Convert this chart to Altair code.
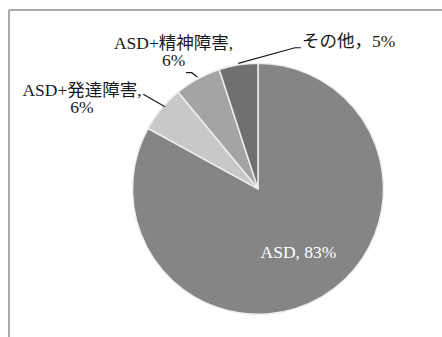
import altair as alt
import pandas as pd
import numpy as np

# ---- data ----
categories = ["ASD", "ASD+発達障害", "ASD+精神障害", "その他"]
shares = [83, 6, 6, 5]
labels = ["ASD, 83%", "ASD+発達障害,\n6%", "ASD+精神障害,\n6%", "その他，5%"]

# ---- styles ----
colors = ["#858585", "#c8c8c8", "#a4a4a4", "#707070"]
text_colors = ["#ffffff", "#1a1a1a", "#1a1a1a", "#1a1a1a"]
label_align = ["center", "center", "center", "left"]
label_radius = [0.6, 1.0, 1.0, 1.0]          # fraction of pie radius for anchor
label_offset = [(2.2, 4.7), (-79.3, -13.1), (-24.0, -29.8), (63.6, -17.8)]  # px
leader_offsets = [
    [],
    [(-18.0, -14.5), (3.7, -2.1)],
    [(-11.5, -6.1), (-5.8, -6.1), (-0.2, -1.8)],
    [(-0.1, -1.5), (56.6, -17.1), (62.6, -17.1)],
]
FONT = "Liberation Serif, Noto Sans CJK JP"
W, H = 442, 337
CX, CY, R = 258.0, 188.8, 125.5

xs = alt.Scale(domain=[-CX / R, (W - CX) / R], nice=False, zero=False)
ys = alt.Scale(domain=[(CY - H) / R, CY / R], nice=False, zero=False)

vals = np.array(shares, dtype=float)
frac_mid = (np.cumsum(vals) - vals / 2) / vals.sum()
ang = 2 * np.pi * frac_mid

pie_df = pd.DataFrame({"cat": categories, "share": shares, "idx": range(len(categories))})

lab_rows = []
line_rows = []
for i, c in enumerate(categories):
    px = label_radius[i] * np.sin(ang[i])
    py = label_radius[i] * np.cos(ang[i])
    ox, oy = label_offset[i]
    lab_rows.append({"cat": c, "label": labels[i], "x": px + ox / R, "y": py - oy / R,
                     "tc": text_colors[i], "align": label_align[i]})
    ex, ey = np.sin(ang[i]), np.cos(ang[i])
    for j, (dx, dy) in enumerate(leader_offsets[i]):
        line_rows.append({"cat": c, "seq": j, "x": ex + dx / R, "y": ey - dy / R})
lab_df = pd.DataFrame(lab_rows)
line_df = pd.DataFrame(line_rows)

pie = alt.Chart(pie_df).mark_arc(outerRadius=R, stroke="#eeeeee", strokeWidth=1.5).encode(
    theta=alt.Theta("share:Q", stack=True),
    color=alt.Color("cat:N", scale=alt.Scale(domain=categories, range=colors), legend=None),
    order=alt.Order("idx:Q"),
    x=alt.XDatum(0, scale=xs, axis=None),
    y=alt.YDatum(0, scale=ys, axis=None),
)

leaders = alt.Chart(line_df).mark_line(color="#1a1a1a", strokeWidth=1.2).encode(
    x=alt.X("x:Q", scale=xs, axis=None),
    y=alt.Y("y:Q", scale=ys, axis=None),
    detail="cat:N",
    order="seq:Q",
)

def text_layer(align):
    return alt.Chart(lab_df).transform_filter(alt.datum.align == align).mark_text(
        align=align, baseline="alphabetic", font=FONT, fontSize=17.5, lineBreak="\n", lineHeight=17
    ).encode(
        x=alt.X("x:Q", scale=xs, axis=None),
        y=alt.Y("y:Q", scale=ys, axis=None),
        text="label:N",
        color=alt.Color("tc:N", scale=None),
    )

frame_top = alt.Chart(pie_df).mark_rule(color="#a8a8a8", strokeWidth=1.5).encode(
    x=alt.value(9), x2=alt.value(W), y=alt.value(10)
)
frame_left = alt.Chart(pie_df).mark_rule(color="#a8a8a8", strokeWidth=1.5).encode(
    x=alt.value(9), y=alt.value(10), y2=alt.value(H)
)

chart = alt.layer(
    pie, leaders, text_layer("center"), text_layer("left"), frame_top, frame_left
).properties(
    width=W, height=H, padding=0, autosize=alt.AutoSizeParams(type="none"),
    background="white",
).configure_view(stroke=None)

chart.save("out.html", embed_options={"renderer": "svg", "actions": False})
